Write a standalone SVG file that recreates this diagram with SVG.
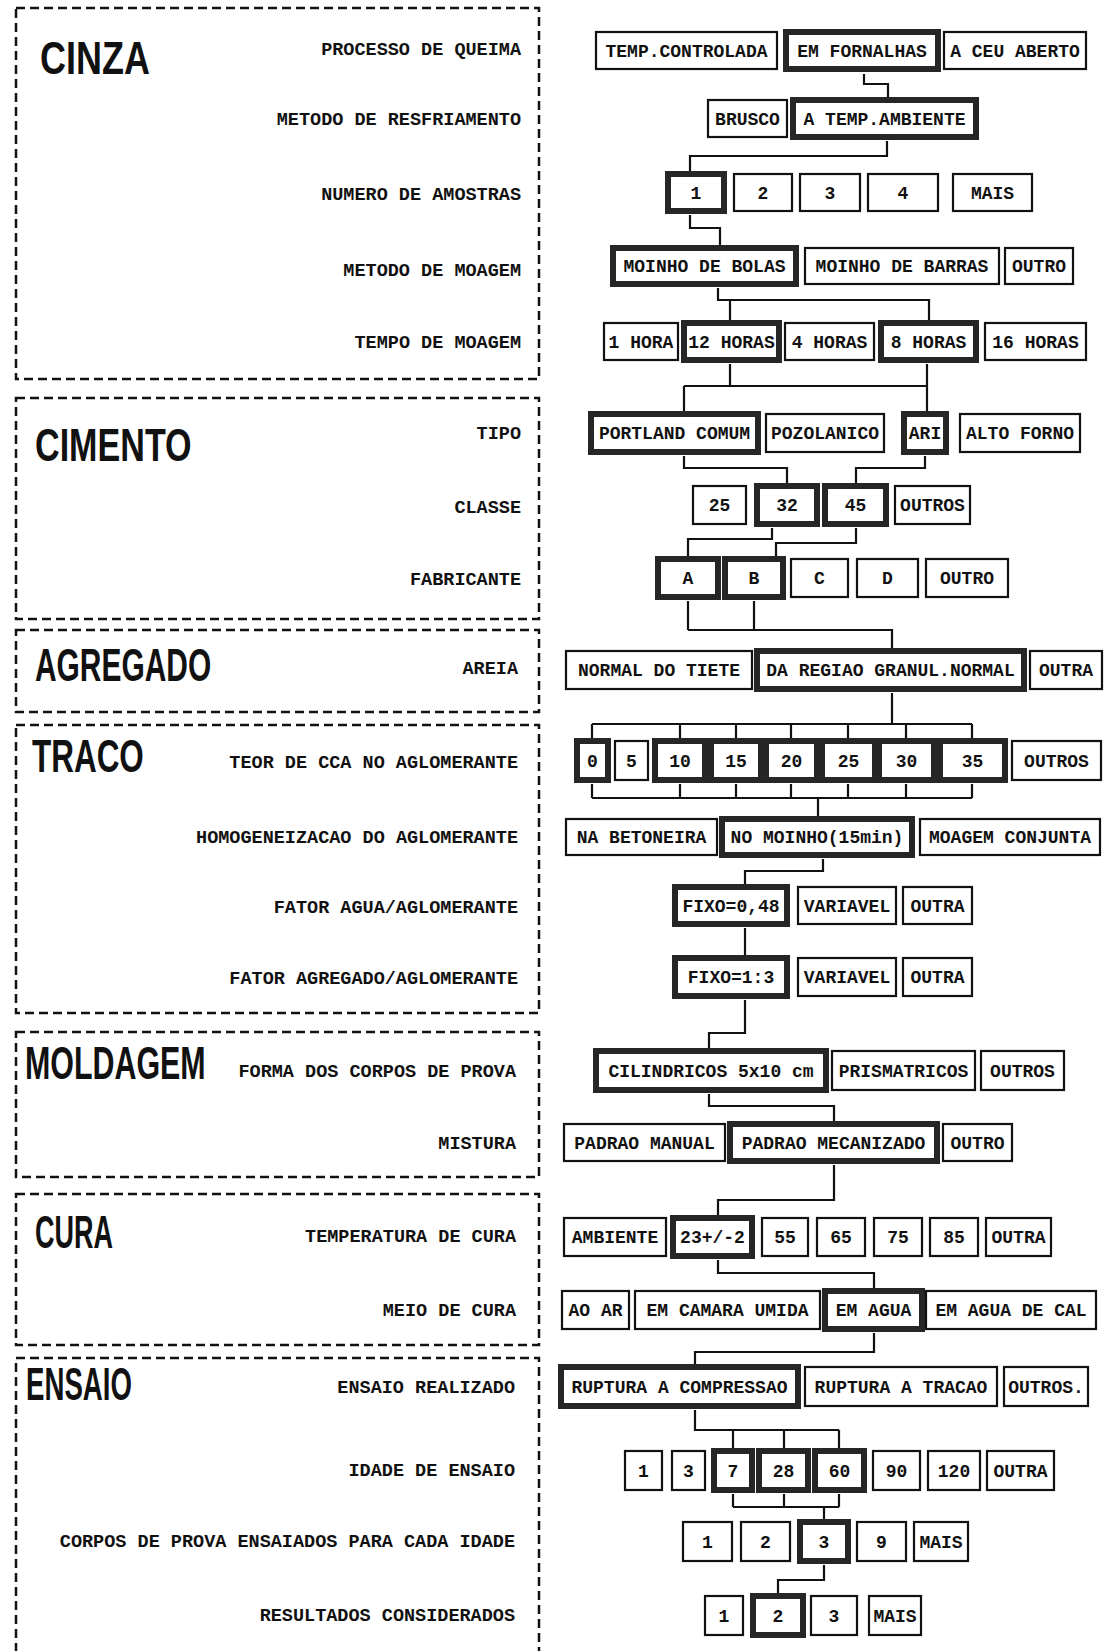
<svg xmlns="http://www.w3.org/2000/svg" width="1117" height="1651" viewBox="0 0 1117 1651">
<style>
.sec{fill:none;stroke:#111;stroke-width:2.5;stroke-dasharray:9 5}
.title{font-family:"Liberation Sans",Arial,sans-serif;font-weight:bold;font-size:47px;fill:#111}
.lbl{font-family:"Liberation Mono","Courier New",monospace;font-weight:bold;font-size:18.5px;fill:#111;text-anchor:end}
.opt rect{fill:#fff;stroke:#111;stroke-width:2.2}
.sel rect{fill:#fff;stroke:#262626;stroke-width:6}
.opt text,.sel text{font-family:"Liberation Mono","Courier New",monospace;font-weight:bold;font-size:18px;fill:#111;text-anchor:middle}
.conn path{fill:none;stroke:#111;stroke-width:2.2}
</style>
<rect width="1117" height="1651" fill="#fff"/>

<g id="sections">
<g id="sec-cinza"><rect class="sec" x="16" y="8" width="523" height="371"/><text class="title" transform="translate(40,74) scale(0.65,1)" x="0" y="0" textLength="169" lengthAdjust="spacingAndGlyphs">CINZA</text></g>
<g id="sec-cimento"><rect class="sec" x="16" y="398" width="523" height="221"/><text class="title" transform="translate(35,461) scale(0.65,1)" x="0" y="0" textLength="241" lengthAdjust="spacingAndGlyphs">CIMENTO</text></g>
<g id="sec-agregado"><rect class="sec" x="16" y="630" width="523" height="82"/><text class="title" transform="translate(35,681) scale(0.65,1)" x="0" y="0" textLength="271" lengthAdjust="spacingAndGlyphs">AGREGADO</text></g>
<g id="sec-traco"><rect class="sec" x="16" y="725" width="523" height="288"/><text class="title" transform="translate(32,772) scale(0.65,1)" x="0" y="0" textLength="172" lengthAdjust="spacingAndGlyphs">TRACO</text></g>
<g id="sec-moldagem"><rect class="sec" x="16" y="1032" width="523" height="145"/><text class="title" transform="translate(25,1079) scale(0.65,1)" x="0" y="0" textLength="278" lengthAdjust="spacingAndGlyphs">MOLDAGEM</text></g>
<g id="sec-cura"><rect class="sec" x="16" y="1194" width="523" height="151"/><text class="title" transform="translate(35,1248) scale(0.65,1)" x="0" y="0" textLength="120" lengthAdjust="spacingAndGlyphs">CURA</text></g>
<g id="sec-ensaio"><rect class="sec" x="16" y="1358" width="523" height="310"/><text class="title" transform="translate(26,1400) scale(0.65,1)" x="0" y="0" textLength="163" lengthAdjust="spacingAndGlyphs">ENSAIO</text></g>
</g>

<g id="labels">
<text class="lbl" x="521" y="55">PROCESSO DE QUEIMA</text>
<text class="lbl" x="521" y="125">METODO DE RESFRIAMENTO</text>
<text class="lbl" x="521" y="200">NUMERO DE AMOSTRAS</text>
<text class="lbl" x="521" y="276">METODO DE MOAGEM</text>
<text class="lbl" x="521" y="348">TEMPO DE MOAGEM</text>
<text class="lbl" x="521" y="439">TIPO</text>
<text class="lbl" x="521" y="513">CLASSE</text>
<text class="lbl" x="521" y="585">FABRICANTE</text>
<text class="lbl" x="518" y="674">AREIA</text>
<text class="lbl" x="518" y="768">TEOR DE CCA NO AGLOMERANTE</text>
<text class="lbl" x="518" y="843">HOMOGENEIZACAO DO AGLOMERANTE</text>
<text class="lbl" x="518" y="913">FATOR AGUA/AGLOMERANTE</text>
<text class="lbl" x="518" y="984">FATOR AGREGADO/AGLOMERANTE</text>
<text class="lbl" x="516" y="1077">FORMA DOS CORPOS DE PROVA</text>
<text class="lbl" x="516" y="1149">MISTURA</text>
<text class="lbl" x="516" y="1242">TEMPERATURA DE CURA</text>
<text class="lbl" x="516" y="1316">MEIO DE CURA</text>
<text class="lbl" x="515" y="1393">ENSAIO REALIZADO</text>
<text class="lbl" x="515" y="1476">IDADE DE ENSAIO</text>
<text class="lbl" x="515" y="1547">CORPOS DE PROVA ENSAIADOS PARA CADA IDADE</text>
<text class="lbl" x="515" y="1621">RESULTADOS CONSIDERADOS</text>
</g>

<g id="connectors" class="conn">
<path d="M864,74 V84 H888 V100"/>
<path d="M887,141 V156 H690 V174"/>
<path d="M690,215 V228 H720 V248"/>
<path d="M718,288 V300 H929 V323 M730,300 V323"/>
<path d="M730,364 V386 M927,364 V414 M684,386 H927 M684,386 V414"/>
<path d="M684,456 V468 H787 V486 M925,456 V468 H856 V486"/>
<path d="M772,528 V539 H688 V559 M856,528 V543 H776 V559"/>
<path d="M688,601 V630 M754,601 V630 M688,630 H892 V651"/>
<path d="M892,693 V724 M592,724 H972 M592,724 V741 M680,724 V741 M736,724 V741 M791,724 V741 M848,724 V741 M906,724 V741 M972,724 V741"/>
<path d="M592,784 V798 M680,784 V798 M736,784 V798 M791,784 V798 M848,784 V798 M906,784 V798 M972,784 V798 M592,798 H972 M818,798 V819"/>
<path d="M823,859 V871 H745 V887"/>
<path d="M745,928 V958"/>
<path d="M745,1000 V1033 H709 V1051"/>
<path d="M709,1094 V1106 H834 V1124"/>
<path d="M834,1165 V1200 H718 V1218"/>
<path d="M718,1260 V1273 H874 V1291"/>
<path d="M874,1333 V1352 H695 V1367"/>
<path d="M695,1410 V1430 H839 M733,1430 V1451 M784,1430 V1451 M839,1430 V1451"/>
<path d="M733,1494 V1507 M784,1494 V1507 M839,1494 V1507 M733,1507 H839 M824,1507 V1522"/>
<path d="M824,1565 V1580 H778 V1596"/>
</g>

<g id="r1-temp-controlada" class="opt"><rect x="596" y="32" width="181" height="37"/><text x="686.5" y="57">TEMP.CONTROLADA</text></g>
<g id="r1-em-fornalhas" class="sel"><rect x="786" y="32" width="152" height="37"/><text x="862" y="57">EM FORNALHAS</text></g>
<g id="r1-a-ceu-aberto" class="opt"><rect x="944" y="32" width="142" height="37"/><text x="1015" y="57">A CEU ABERTO</text></g>

<g id="r2-brusco" class="opt"><rect x="708" y="100" width="79" height="37"/><text x="747.5" y="125">BRUSCO</text></g>
<g id="r2-a-temp-ambiente" class="sel"><rect x="793" y="100" width="183" height="37"/><text x="884.5" y="125">A TEMP.AMBIENTE</text></g>

<g id="r3-1" class="sel"><rect x="668" y="174" width="56" height="37"/><text x="696" y="199">1</text></g>
<g id="r3-2" class="opt"><rect x="734" y="174" width="58" height="37"/><text x="763" y="199">2</text></g>
<g id="r3-3" class="opt"><rect x="800" y="174" width="60" height="37"/><text x="830" y="199">3</text></g>
<g id="r3-4" class="opt"><rect x="868" y="174" width="70" height="37"/><text x="903" y="199">4</text></g>
<g id="r3-mais" class="opt"><rect x="953" y="174" width="79" height="37"/><text x="992.5" y="199">MAIS</text></g>

<g id="r4-moinho-bolas" class="sel"><rect x="613" y="248" width="183" height="36"/><text x="704.5" y="272">MOINHO DE BOLAS</text></g>
<g id="r4-moinho-barras" class="opt"><rect x="805" y="248" width="194" height="36"/><text x="902" y="272">MOINHO DE BARRAS</text></g>
<g id="r4-outro" class="opt"><rect x="1005" y="248" width="68" height="36"/><text x="1039" y="272">OUTRO</text></g>

<g id="r5-1-hora" class="opt"><rect x="604" y="323" width="74" height="37"/><text x="641" y="348">1 HORA</text></g>
<g id="r5-12-horas" class="sel"><rect x="684" y="323" width="95" height="37"/><text x="731.5" y="348">12 HORAS</text></g>
<g id="r5-4-horas" class="opt"><rect x="785" y="323" width="89" height="37"/><text x="829.5" y="348">4 HORAS</text></g>
<g id="r5-8-horas" class="sel"><rect x="881" y="323" width="95" height="37"/><text x="928.5" y="348">8 HORAS</text></g>
<g id="r5-16-horas" class="opt"><rect x="985" y="323" width="101" height="37"/><text x="1035.5" y="348">16 HORAS</text></g>

<g id="r6-portland-comum" class="sel"><rect x="591" y="414" width="167" height="38"/><text x="674.5" y="439">PORTLAND COMUM</text></g>
<g id="r6-pozolanico" class="opt"><rect x="766" y="414" width="118" height="38"/><text x="825" y="439">POZOLANICO</text></g>
<g id="r6-ari" class="sel"><rect x="904" y="414" width="42" height="38"/><text x="925" y="439">ARI</text></g>
<g id="r6-alto-forno" class="opt"><rect x="960" y="414" width="120" height="38"/><text x="1020" y="439">ALTO FORNO</text></g>

<g id="r7-25" class="opt"><rect x="693" y="486" width="53" height="38"/><text x="719.5" y="511">25</text></g>
<g id="r7-32" class="sel"><rect x="757" y="486" width="60" height="38"/><text x="787" y="511">32</text></g>
<g id="r7-45" class="sel"><rect x="825" y="486" width="61" height="38"/><text x="855.5" y="511">45</text></g>
<g id="r7-outros" class="opt"><rect x="895" y="486" width="75" height="38"/><text x="932.5" y="511">OUTROS</text></g>

<g id="r8-a" class="sel"><rect x="658" y="559" width="60" height="38"/><text x="688" y="584">A</text></g>
<g id="r8-b" class="sel"><rect x="725" y="559" width="58" height="38"/><text x="754" y="584">B</text></g>
<g id="r8-c" class="opt"><rect x="791" y="559" width="57" height="38"/><text x="819.5" y="584">C</text></g>
<g id="r8-d" class="opt"><rect x="857" y="559" width="61" height="38"/><text x="887.5" y="584">D</text></g>
<g id="r8-outro" class="opt"><rect x="926" y="559" width="82" height="38"/><text x="967" y="584">OUTRO</text></g>

<g id="r9-normal-tiete" class="opt"><rect x="566" y="651" width="186" height="38"/><text x="659" y="676">NORMAL DO TIETE</text></g>
<g id="r9-da-regiao" class="sel"><rect x="757" y="651" width="267" height="38"/><text x="890.5" y="676">DA REGIAO GRANUL.NORMAL</text></g>
<g id="r9-outra" class="opt"><rect x="1030" y="651" width="72" height="38"/><text x="1066" y="676">OUTRA</text></g>

<g id="r10-0" class="sel"><rect x="577" y="741" width="31" height="39"/><text x="592.5" y="767">0</text></g>
<g id="r10-5" class="opt"><rect x="615" y="741" width="33" height="39"/><text x="631.5" y="767">5</text></g>
<g id="r10-10" class="sel"><rect x="655" y="741" width="50" height="39"/><text x="680" y="767">10</text></g>
<g id="r10-15" class="sel"><rect x="711" y="741" width="50" height="39"/><text x="736" y="767">15</text></g>
<g id="r10-20" class="sel"><rect x="766" y="741" width="51" height="39"/><text x="791.5" y="767">20</text></g>
<g id="r10-25" class="sel"><rect x="822" y="741" width="53" height="39"/><text x="848.5" y="767">25</text></g>
<g id="r10-30" class="sel"><rect x="879" y="741" width="55" height="39"/><text x="906.5" y="767">30</text></g>
<g id="r10-35" class="sel"><rect x="940" y="741" width="65" height="39"/><text x="972.5" y="767">35</text></g>
<g id="r10-outros" class="opt"><rect x="1012" y="741" width="89" height="39"/><text x="1056.5" y="767">OUTROS</text></g>

<g id="r11-na-betoneira" class="opt"><rect x="566" y="819" width="151" height="36"/><text x="641.5" y="843">NA BETONEIRA</text></g>
<g id="r11-no-moinho" class="sel"><rect x="722" y="819" width="190" height="36"/><text x="817" y="843">NO MOINHO(15min)</text></g>
<g id="r11-moagem-conjunta" class="opt"><rect x="920" y="819" width="180" height="36"/><text x="1010" y="843">MOAGEM CONJUNTA</text></g>

<g id="r12-fixo-048" class="sel"><rect x="675" y="887" width="112" height="37"/><text x="731" y="912">FIXO=0,48</text></g>
<g id="r12-variavel" class="opt"><rect x="798" y="887" width="98" height="37"/><text x="847" y="912">VARIAVEL</text></g>
<g id="r12-outra" class="opt"><rect x="903" y="887" width="69" height="37"/><text x="937.5" y="912">OUTRA</text></g>

<g id="r13-fixo-13" class="sel"><rect x="675" y="958" width="112" height="38"/><text x="731" y="983">FIXO=1:3</text></g>
<g id="r13-variavel" class="opt"><rect x="798" y="958" width="98" height="38"/><text x="847" y="983">VARIAVEL</text></g>
<g id="r13-outra" class="opt"><rect x="903" y="958" width="69" height="38"/><text x="937.5" y="983">OUTRA</text></g>

<g id="r14-cilindricos" class="sel"><rect x="596" y="1051" width="230" height="39"/><text x="711" y="1077">CILINDRICOS 5x10 cm</text></g>
<g id="r14-prismatricos" class="opt"><rect x="832" y="1051" width="143" height="39"/><text x="903.5" y="1077">PRISMATRICOS</text></g>
<g id="r14-outros" class="opt"><rect x="981" y="1051" width="83" height="39"/><text x="1022.5" y="1077">OUTROS</text></g>

<g id="r15-padrao-manual" class="opt"><rect x="564" y="1124" width="161" height="37"/><text x="644.5" y="1149">PADRAO MANUAL</text></g>
<g id="r15-padrao-mecanizado" class="sel"><rect x="730" y="1124" width="207" height="37"/><text x="833.5" y="1149">PADRAO MECANIZADO</text></g>
<g id="r15-outro" class="opt"><rect x="943" y="1124" width="69" height="37"/><text x="977.5" y="1149">OUTRO</text></g>

<g id="r16-ambiente" class="opt"><rect x="564" y="1218" width="102" height="38"/><text x="615" y="1243">AMBIENTE</text></g>
<g id="r16-23" class="sel"><rect x="673" y="1218" width="79" height="38"/><text x="712.5" y="1243">23+/-2</text></g>
<g id="r16-55" class="opt"><rect x="762" y="1218" width="46" height="38"/><text x="785" y="1243">55</text></g>
<g id="r16-65" class="opt"><rect x="817" y="1218" width="48" height="38"/><text x="841" y="1243">65</text></g>
<g id="r16-75" class="opt"><rect x="874" y="1218" width="48" height="38"/><text x="898" y="1243">75</text></g>
<g id="r16-85" class="opt"><rect x="930" y="1218" width="48" height="38"/><text x="954" y="1243">85</text></g>
<g id="r16-outra" class="opt"><rect x="986" y="1218" width="65" height="38"/><text x="1018.5" y="1243">OUTRA</text></g>

<g id="r17-ao-ar" class="opt"><rect x="562" y="1291" width="67" height="38"/><text x="595.5" y="1316">AO AR</text></g>
<g id="r17-em-camara-umida" class="opt"><rect x="635" y="1291" width="185" height="38"/><text x="727.5" y="1316">EM CAMARA UMIDA</text></g>
<g id="r17-em-agua" class="sel"><rect x="825" y="1291" width="97" height="38"/><text x="873.5" y="1316">EM AGUA</text></g>
<g id="r17-em-agua-cal" class="opt"><rect x="926" y="1291" width="170" height="38"/><text x="1011" y="1316">EM AGUA DE CAL</text></g>

<g id="r18-compressao" class="sel"><rect x="561" y="1367" width="237" height="39"/><text x="679.5" y="1393">RUPTURA A COMPRESSAO</text></g>
<g id="r18-tracao" class="opt"><rect x="805" y="1367" width="192" height="39"/><text x="901" y="1393">RUPTURA A TRACAO</text></g>
<g id="r18-outros" class="opt"><rect x="1004" y="1367" width="84" height="39"/><text x="1046" y="1393">OUTROS.</text></g>

<g id="r19-1" class="opt"><rect x="625" y="1451" width="37" height="39"/><text x="643.5" y="1477">1</text></g>
<g id="r19-3" class="opt"><rect x="672" y="1451" width="33" height="39"/><text x="688.5" y="1477">3</text></g>
<g id="r19-7" class="sel"><rect x="714" y="1451" width="38" height="39"/><text x="733" y="1477">7</text></g>
<g id="r19-28" class="sel"><rect x="759" y="1451" width="49" height="39"/><text x="783.5" y="1477">28</text></g>
<g id="r19-60" class="sel"><rect x="815" y="1451" width="49" height="39"/><text x="839.5" y="1477">60</text></g>
<g id="r19-90" class="opt"><rect x="873" y="1451" width="47" height="39"/><text x="896.5" y="1477">90</text></g>
<g id="r19-120" class="opt"><rect x="928" y="1451" width="52" height="39"/><text x="954" y="1477">120</text></g>
<g id="r19-outra" class="opt"><rect x="987" y="1451" width="67" height="39"/><text x="1020.5" y="1477">OUTRA</text></g>

<g id="r20-1" class="opt"><rect x="683" y="1522" width="49" height="39"/><text x="707.5" y="1548">1</text></g>
<g id="r20-2" class="opt"><rect x="741" y="1522" width="49" height="39"/><text x="765.5" y="1548">2</text></g>
<g id="r20-3" class="sel"><rect x="800" y="1522" width="48" height="39"/><text x="824" y="1548">3</text></g>
<g id="r20-9" class="opt"><rect x="857" y="1522" width="49" height="39"/><text x="881.5" y="1548">9</text></g>
<g id="r20-mais" class="opt"><rect x="914" y="1522" width="54" height="39"/><text x="941" y="1548">MAIS</text></g>

<g id="r21-1" class="opt"><rect x="705" y="1596" width="38" height="39"/><text x="724" y="1622">1</text></g>
<g id="r21-2" class="sel"><rect x="753" y="1596" width="50" height="39"/><text x="778" y="1622">2</text></g>
<g id="r21-3" class="opt"><rect x="811" y="1596" width="46" height="39"/><text x="834" y="1622">3</text></g>
<g id="r21-mais" class="opt"><rect x="869" y="1596" width="52" height="39"/><text x="895" y="1622">MAIS</text></g>
</svg>
